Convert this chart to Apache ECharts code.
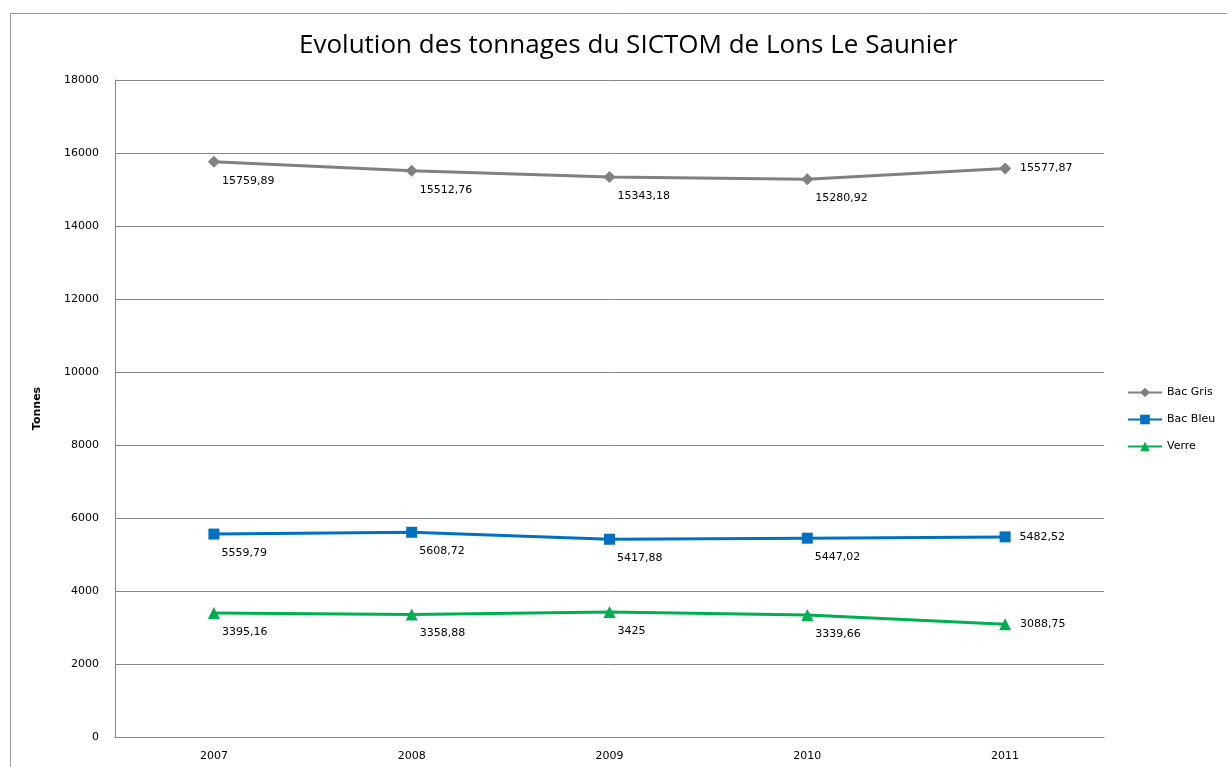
<!DOCTYPE html>
<html lang="fr">
<head>
    <meta charset="UTF-8">
    <script src="https://cdn.jsdelivr.net/npm/echarts/dist/echarts.min.js"></script>
    <title>Evolution des tonnages</title>
    <style>
        html, body { margin: 0; padding: 0; background: #fff; }
        #chart { width: 1227px; height: 767px; }
    </style>
</head>
<body>
<div id="chart"></div>
<script>
    // données
    let years = ['2007', '2008', '2009', '2010', '2011'];
    let bacGris = [15759.89, 15512.76, 15343.18, 15280.92, 15577.87];
    let bacBleu = [5559.79, 5608.72, 5417.88, 5447.02, 5482.52];
    let verre = [3395.16, 3358.88, 3425, 3339.66, 3088.75];

    // virgule décimale
    function fr(v){
        return String(v).replace('.', ',');
    }

    // le dernier point a son étiquette à droite, les autres en dessous
    function points(arr){
        return arr.map(function(v, i){
            let last = i === arr.length - 1;
            return {
                value: v,
                label: {
                    position: 'right',
                    offset: last ? [4, 0] : [-3, 19]
                }
            };
        });
    }

    function serie(name, data, color, symbol, size){
        return {
            name: name,
            type: 'line',
            data: points(data),
            symbol: symbol,
            symbolSize: size,
            itemStyle: { color: color },
            lineStyle: { color: color, width: 3 },
            label: {
                show: true,
                color: '#000',
                fontSize: 11,
                fontFamily: 'DejaVu Sans',
                formatter: function(p){ return fr(p.value); }
            }
        };
    }

    var myChart = echarts.init(document.getElementById('chart'));
    myChart.setOption({
        animation: false,
        title: {
            text: 'Evolution des tonnages du SICTOM de Lons Le Saunier',
            left: 294,
            top: 28,
            textStyle: { fontSize: 26, fontWeight: 'normal', color: '#000', fontFamily: 'Open Sans' }
        },
        graphic: [{
            type: 'rect',
            shape: { x: 10.5, y: 13.5, width: 1300, height: 800 },
            style: { fill: 'none', stroke: '#999', lineWidth: 1 }
        }],
        legend: {
            orient: 'vertical',
            left: 1122,
            top: 382,
            itemGap: 16,
            itemWidth: 34,
            itemHeight: 12,
            textStyle: { fontSize: 11, color: '#000', fontFamily: 'DejaVu Sans' },
            data: ['Bac Gris', 'Bac Bleu', 'Verre']
        },
        grid: { left: 115, right: 123, top: 80, bottom: 30 },
        xAxis: {
            type: 'category',
            data: years,
            boundaryGap: true,
            axisLine: { lineStyle: { color: '#888' } },
            axisTick: { show: false },
            axisLabel: { color: '#000', fontSize: 11, margin: 14, fontFamily: 'DejaVu Sans' }
        },
        yAxis: {
            type: 'value',
            min: 0,
            max: 18000,
            interval: 2000,
            name: 'Tonnes',
            nameLocation: 'middle',
            nameGap: 72,
            nameTextStyle: { fontSize: 11, fontWeight: 'bold', color: '#000', fontFamily: 'DejaVu Sans' },
            axisLine: { show: true, lineStyle: { color: '#888' } },
            axisTick: { show: false },
            axisLabel: {
                color: '#000', fontSize: 11, margin: 16, fontFamily: 'DejaVu Sans',
                formatter: function(v){ return String(v); }
            },
            splitLine: { lineStyle: { color: '#888' } }
        },
        series: [
            serie('Bac Gris', bacGris, '#808080', 'diamond', 12),
            serie('Bac Bleu', bacBleu, '#0070c0', 'rect', 11),
            serie('Verre', verre, '#00b050', 'triangle', 12)
        ]
    });
</script>
</body>
</html>
